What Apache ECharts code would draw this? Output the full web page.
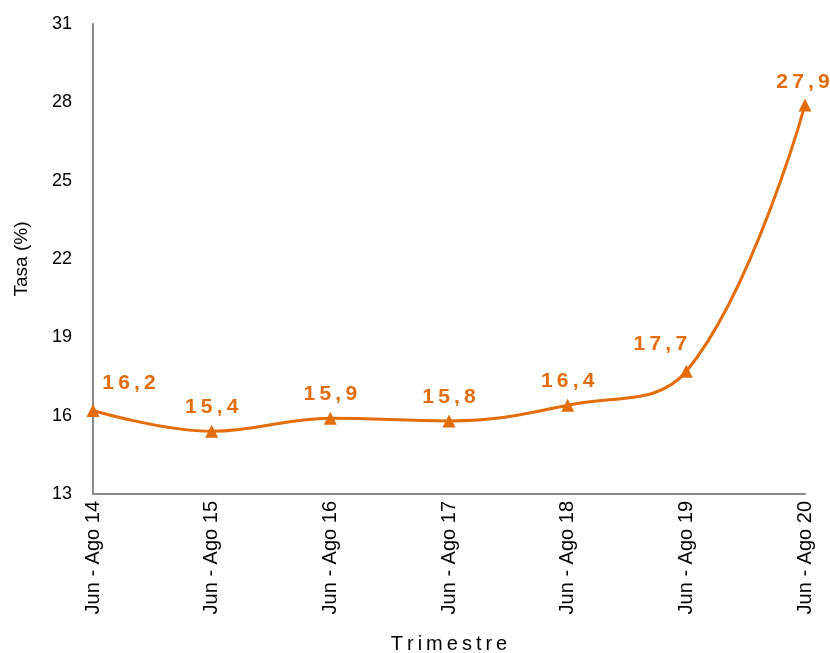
<!DOCTYPE html>
<html><head><meta charset="utf-8">
<script src="https://cdn.jsdelivr.net/npm/echarts@6/dist/echarts.min.js"></script>
<style>html,body{margin:0;padding:0;background:#fff}#c{width:830px;height:653px}</style>
</head><body><div id="c"></div>
<script>
const categories = ["Jun - Ago 14","Jun - Ago 15","Jun - Ago 16","Jun - Ago 17","Jun - Ago 18","Jun - Ago 19","Jun - Ago 20"];
const tasa = [16.2, 15.4, 15.9, 15.8, 16.4, 17.7, 27.9];
const labelOffsets = [[36,0],[0,3],[0,3],[0,3],[0,3],[-26,0],[-2,4]];
const FONT = "'Liberation Sans',Arial,sans-serif";
const orange = '#E46C0A';
const spaced = s => s.split('').join('\u2009');
const chart = echarts.init(document.getElementById('c'));
chart.setOption({
  animation:false,
  grid:{left:93,right:25,top:24,bottom:159,containLabel:false,outerBoundsMode:'none'},
  xAxis:{type:'category',data:categories,boundaryGap:false,
    axisLine:{lineStyle:{color:'#888',width:2}},axisTick:{show:false},
    axisLabel:{rotate:90,color:'#000',fontSize:20,fontFamily:FONT,margin:7},
    name:spaced('Trimestre'),nameLocation:'middle',nameGap:140,
    nameTextStyle:{color:'#000',fontSize:20,fontFamily:FONT}},
  yAxis:{type:'value',min:13,max:31,interval:3,
    axisLine:{show:true,lineStyle:{color:'#888',width:2}},axisTick:{show:false},splitLine:{show:false},
    axisLabel:{color:'#000',fontSize:18,fontFamily:FONT,margin:21},
    name:'Tasa (%)',nameLocation:'middle',nameGap:62,nameRotate:90,
    nameTextStyle:{color:'#000',fontSize:19,fontFamily:FONT}},
  series:[{type:'line',smooth:0.4,data:tasa.map((v,i)=>({value:v,label:{offset:labelOffsets[i]}})),
    symbol:'triangle',symbolSize:13,
    lineStyle:{color:orange,width:3},itemStyle:{color:orange},
    label:{show:true,position:'top',distance:10,color:orange,fontWeight:'bold',fontSize:21,
      fontFamily:FONT,
      formatter:p=>spaced(String(p.value).replace('.',','))}}]
});
</script></body></html>
